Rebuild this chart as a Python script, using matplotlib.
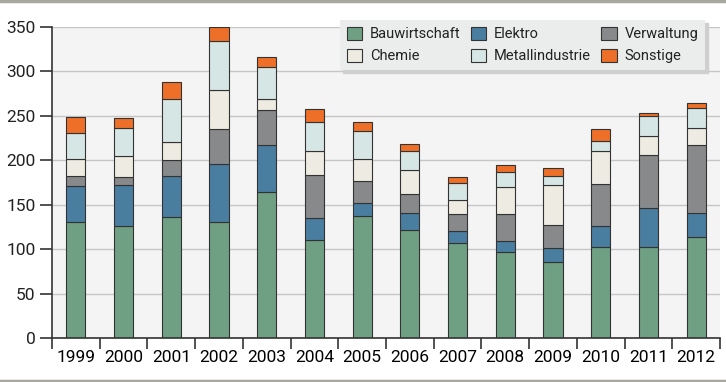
import numpy as np
import matplotlib
matplotlib.use("Agg")
import matplotlib.pyplot as plt
from matplotlib import font_manager

# data
years = ['1999', '2000', '2001', '2002', '2003', '2004', '2005',
         '2006', '2007', '2008', '2009', '2010', '2011', '2012']
bauwirtschaft = [130, 126, 136, 131, 164, 110, 137, 121, 106.5, 97, 86, 102.5, 102.5, 113.5]
elektro = [41.5, 46, 46, 64.5, 53.5, 25, 15, 19.5, 13.5, 12.5, 15, 24, 43.5, 27]
verwaltung = [10.5, 9, 18, 39.5, 39, 48.5, 24.5, 21, 19, 29.5, 26.5, 46.5, 60.5, 76.5]
chemie = [20, 24, 21, 44, 12, 27.5, 25.5, 27.5, 16.5, 30.5, 44.5, 38, 21, 19]
metallindustrie = [29, 31, 48, 55, 36.5, 32, 31.5, 22, 18.5, 17, 10.5, 11, 22, 22.5]
sonstige = [18, 12, 19, 16, 11, 15, 10, 7, 7, 8, 8.5, 13, 4, 6]
yticks = [0, 50, 100, 150, 200, 250, 300, 350]

names = [f.name for f in font_manager.fontManager.ttflist]
fam = 'Liberation Sans Narrow' if 'Liberation Sans Narrow' in names else 'Roboto'
plt.rcParams['font.family'] = [fam, 'DejaVu Sans']
plt.rcParams['text.color'] = '#222222'

series = [
    ('Bauwirtschaft', bauwirtschaft, '#6fa083'),
    ('Elektro', elektro, '#4a7ea0'),
    ('Verwaltung', verwaltung, '#88898a'),
    ('Chemie', chemie, '#eeebe2'),
    ('Metallindustrie', metallindustrie, '#d6e6e4'),
    ('Sonstige', sonstige, '#ee7028'),
]

fig = plt.figure(figsize=(7.26, 3.82), dpi=100)
ax = fig.add_axes([52/726, 44/382, 668/726, 311/382])
ax.set_facecolor('#f4f4f4')

x = np.arange(len(years))
bottom = np.zeros(len(years))
bars = {}
for name, vals, col in series:
    vals = np.array(vals, dtype=float)
    bars[name] = ax.bar(x, vals, 0.4, bottom=bottom, color=col,
                        edgecolor='#333333', linewidth=0.8, label=name, zorder=3)
    bottom += vals

ax.set_xlim(-0.5, len(years) - 0.5)
ax.set_ylim(0, 350)
ax.set_yticks(yticks)
ax.yaxis.grid(True, color='#c6c6c6', linewidth=1, zorder=0)
ax.tick_params(axis='y', length=9, width=1.2, color='#333333', labelsize=12.5,
               labelcolor='#222222', pad=3)
ax.set_xticks(x)
ax.set_xticklabels(years)
ax.set_xticks(np.arange(-0.5, len(years)), minor=True)
ax.tick_params(axis='x', which='major', length=0, labelsize=12.5, pad=9)
ax.tick_params(axis='x', which='minor', length=8, width=1.2, color='#333333')
for s in ['top', 'right']:
    ax.spines[s].set_visible(False)
for s in ['left', 'bottom']:
    ax.spines[s].set_color('#333333')
    ax.spines[s].set_linewidth(1.2)
    ax.spines[s].set_zorder(4)

order = ['Bauwirtschaft', 'Chemie', 'Elektro', 'Metallindustrie', 'Verwaltung', 'Sonstige']
leg = ax.legend([bars[n] for n in order], order, ncol=3, loc='upper right',
                bbox_to_anchor=(705/726, 1 - 20/382), bbox_transform=fig.transFigure,
                frameon=True, fancybox=False, shadow={'color': '#cfcfcf', 'alpha': 1},
                fontsize=10.5, handlelength=1.05, handleheight=1.05, handletextpad=0.55,
                columnspacing=0.7, borderpad=0.45, labelspacing=0.5, borderaxespad=0)
leg.get_frame().set_facecolor('#ebeded')
leg.get_frame().set_edgecolor('none')
leg.set_zorder(10)

# grey rules at top and bottom of the panel
fig.add_artist(plt.Line2D([0, 1], [1 - 1/382, 1 - 1/382], color='#a8a8a0', linewidth=2.5,
                          transform=fig.transFigure))
fig.add_artist(plt.Line2D([0, 1], [1.5/382, 1.5/382], color='#a8a8a0', linewidth=2.5,
                          transform=fig.transFigure))

fig.savefig('out.png', dpi=100)
